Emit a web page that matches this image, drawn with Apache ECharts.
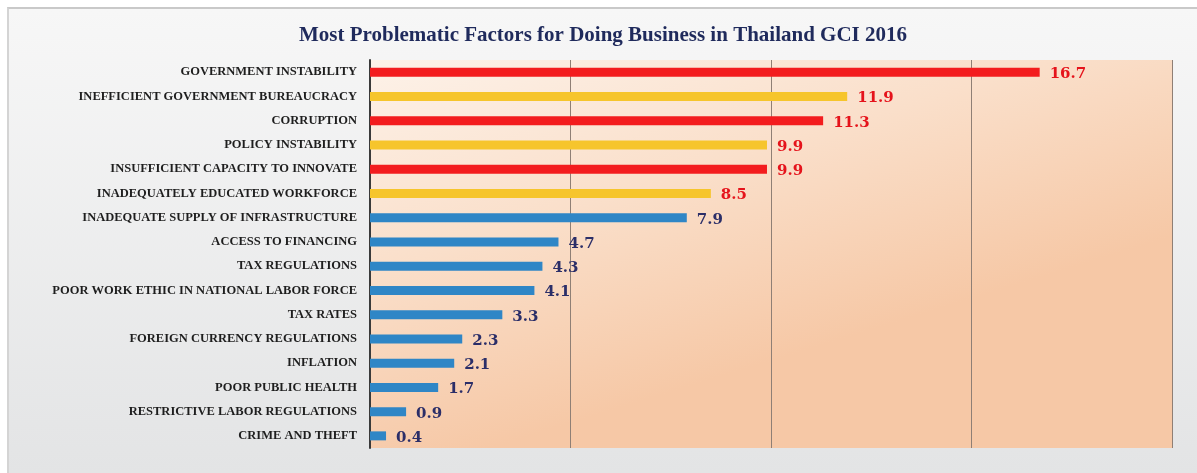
<!DOCTYPE html>
<html>
<head>
<meta charset="utf-8">
<script src="https://cdn.jsdelivr.net/npm/echarts@6/dist/echarts.min.js"></script>
<style>
  html, body { margin: 0; padding: 0; background: #ffffff; }
  #chart {
    position: absolute; left: 7px; top: 7px;
    width: 1188px; height: 464px;
    border-top: 2px solid #c9c9c9; border-left: 2px solid #d4d4d4;
  }
</style>
</head>
<body>
<div id="chart"></div>
<script>
// 数据
const categories = [
    'GOVERNMENT INSTABILITY',
    'INEFFICIENT GOVERNMENT BUREAUCRACY',
    'CORRUPTION',
    'POLICY INSTABILITY',
    'INSUFFICIENT CAPACITY TO INNOVATE',
    'INADEQUATELY EDUCATED WORKFORCE',
    'INADEQUATE SUPPLY OF INFRASTRUCTURE',
    'ACCESS TO FINANCING',
    'TAX REGULATIONS',
    'POOR WORK ETHIC IN NATIONAL LABOR FORCE',
    'TAX RATES',
    'FOREIGN CURRENCY REGULATIONS',
    'INFLATION',
    'POOR PUBLIC HEALTH',
    'RESTRICTIVE LABOR REGULATIONS',
    'CRIME AND THEFT'
];
const values = [16.7, 11.9, 11.3, 9.9, 9.9, 8.5, 7.9, 4.7, 4.3, 4.1, 3.3, 2.3, 2.1, 1.7, 0.9, 0.4];
// 每一项所属的高亮组
const groups = ['red', 'yellow', 'red', 'yellow', 'red', 'yellow', 'blue', 'blue', 'blue', 'blue', 'blue', 'blue', 'blue', 'blue', 'blue', 'blue'];
const xTicks = [0, 5, 10, 15, 20];

const barColors = { red: '#f31c1e', yellow: '#f6c52c', blue: '#2f86c6' };
const labelColors = { red: '#e5131b', yellow: '#e5131b', blue: '#2b2e68' };

const myChart = echarts.init(document.getElementById('chart'));

const seriesData = values.map((v, i) => ({
    value: v,
    itemStyle: { color: barColors[groups[i]] },
    label: { color: labelColors[groups[i]] }
}));

const option = {
    animation: false,
    backgroundColor: {
        type: 'linear', x: 0, y: 0, x2: 0, y2: 1,
        colorStops: [
            { offset: 0, color: '#f7f7f7' },
            { offset: 1, color: '#e3e4e5' }
        ]
    },
    title: {
        text: 'Most Problematic Factors for Doing Business in Thailand GCI 2016',
        left: 'center',
        top: 11,
        textStyle: {
            fontFamily: 'Liberation Serif',
            fontWeight: 'bold',
            fontSize: 21,
            color: '#1f2a5c'
        }
    },
    grid: {
        left: 361,
        right: 25,
        top: 51,
        bottom: 25,
        show: true,
        borderWidth: 0,
        backgroundColor: {
            type: 'linear', x: 0, y: 0, x2: 0.15, y2: 1,
            colorStops: [
                { offset: 0, color: '#fdf2e9' },
                { offset: 0.5, color: '#fadfca' },
                { offset: 1, color: '#f6c8a6' }
            ]
        }
    },
    xAxis: {
        type: 'value',
        min: xTicks[0],
        max: xTicks[xTicks.length - 1],
        interval: xTicks[1] - xTicks[0],
        axisLine: { show: false },
        axisTick: { show: false },
        axisLabel: { show: false },
        splitLine: {
            show: true,
            lineStyle: { color: '#8f7f75', width: 1 }
        }
    },
    yAxis: {
        type: 'category',
        data: categories,
        inverse: true,
        axisTick: { show: false },
        axisLine: {
            show: true,
            lineStyle: { color: '#3a3a3a', width: 2 }
        },
        axisLabel: {
            margin: 13,
            fontFamily: 'Liberation Serif',
            fontWeight: 'bold',
            fontSize: 12.5,
            color: '#1e1e1e'
        }
    },
    series: [{
        type: 'bar',
        data: seriesData,
        barWidth: 9,
        label: {
            show: true,
            position: 'right',
            distance: 10,
            offset: [0, 2],
            fontFamily: 'DejaVu Serif',
            fontWeight: 'bold',
            fontSize: 15
        }
    }]
};

myChart.setOption(option);

window.addEventListener('resize', function () {
    myChart.resize();
});
</script>
</body>
</html>
